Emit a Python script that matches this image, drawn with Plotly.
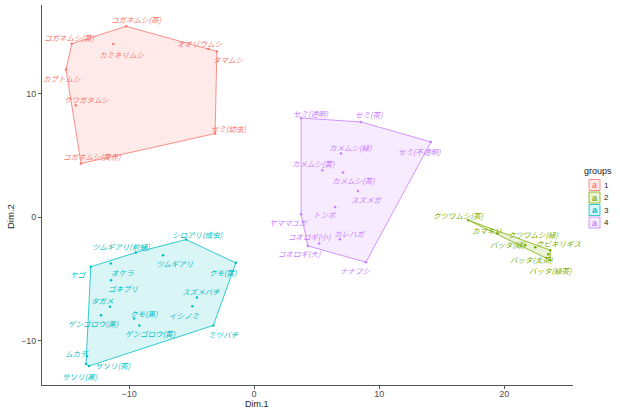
import plotly.graph_objects as go

# ---------------- data ----------------
g1_names = ["コガネムシ(茶)", "コガネムシ(黄)", "カミキリムシ", "オオゾウムシ", "タマムシ",
            "カブトムシ", "クワガタムシ", "セミ(幼虫)", "コガネムシ(黄赤)"]
g1_x = [-10.24, -14.58, -11.26, -3.66, -2.98, -15.04, -14.26, -3.12, -13.84]
g1_y = [15.47, 14.06, 14.03, 13.63, 13.44, 11.98, 9.07, 6.78, 4.35]

g2_names = ["クツワムシ(茶)", "カマキリ", "クツワムシ(緑)", "バッタ(緑)", "クビキリギス",
            "バッタ(太茶)", "バッタ(緑茶)"]
g2_x = [17.12, 19.44, 22.48, 21.68, 23.68, 23.52, 23.68]
g2_y = [-0.24, -1.30, -2.43, -2.27, -2.67, -3.00, -3.48]

g3_names = ["シロアリ(成虫)", "ツムギアリ(前蛹)", "ツムギアリ", "ヤゴ", "オケラ", "クモ(黄)",
            "ゴキブリ", "スズメバチ", "タガメ", "イシノミ", "ゲンゴロウ(黒)", "クモ(黒)",
            "ゲンゴロウ(黄)", "ミツバチ", "ムカデ", "サソリ(茶)", "サソリ(黒)"]
g3_x = [-5.44, -9.46, -7.28, -13.06, -11.46, -1.46, -11.44, -4.58, -11.52, -4.94,
        -12.24, -9.60, -9.17, -3.26, -13.36, -13.20, -13.44]
g3_y = [-1.81, -2.86, -3.08, -4.02, -3.75, -3.70, -5.10, -6.50, -7.26, -7.21,
        -7.94, -8.20, -8.77, -8.77, -11.26, -12.06, -11.90]

g4_names = ["セミ(透明)", "セミ(茶)", "セミ(不透明)", "カメムシ(緑)", "カメムシ(黄)",
            "カメムシ(茶)", "スズメガ", "トンボ", "ヤママユガ", "コオロギ(小)", "カレハガ",
            "コオロギ(大)", "ナナフシ"]
g4_x = [3.76, 8.54, 14.14, 6.94, 5.46, 7.10, 8.30, 6.48, 3.76, 5.20, 6.86, 4.30, 8.94]
g4_y = [8.04, 7.72, 6.10, 5.16, 3.81, 3.62, 2.13, 0.83, 0.24, -2.13, -1.78, -2.33, -3.65]

group_labels = ["1", "2", "3", "4"]
x_ticks = [-10, 0, 10, 20]
y_ticks = [-10, 0, 10]

# ---------------- style ----------------
colors = {"1": "#F8766D", "2": "#7CAE00", "3": "#00BFC4", "4": "#C77CFF"}
fills = {"1": "rgba(248,118,109,0.15)", "2": "rgba(124,174,0,0.15)",
         "3": "rgba(0,191,196,0.15)", "4": "rgba(199,124,255,0.15)"}

# label offsets in pixels (dx right, dy down), repel-like placement
offsets = {
    "コガネムシ(茶)": (10, -7), "コガネムシ(黄)": (-2, -6), "カミキリムシ": (9, 10),
    "オオゾウムシ": (-8, -6), "タマムシ": (12, 8), "カブトムシ": (-4, 9),
    "クワガタムシ": (11, -6), "セミ(幼虫)": (14, -5), "コガネムシ(黄赤)": (11, -7),
    "クツワムシ(茶)": (-10, -5), "カマキリ": (-10, -3), "クツワムシ(緑)": (-2, -13),
    "バッタ(緑)": (-17, -1), "クビキリギス": (9, -7), "バッタ(太茶)": (-17, 5),
    "バッタ(緑茶)": (0, 10),
    "シロアリ(成虫)": (11, -5), "ツムギアリ(前蛹)": (-15, -6), "ツムギアリ": (12, 8),
    "ヤゴ": (-12, 8), "オケラ": (12, 9), "クモ(黄)": (-13, 10), "ゴキブリ": (12, 8),
    "スズメバチ": (4, -6), "タガメ": (-8, -6), "イシノミ": (-8, 9),
    "ゲンゴロウ(黒)": (-8, 8), "クモ(黒)": (10, -5), "ゲンゴロウ(黄)": (11, 8),
    "ミツバチ": (10, 9), "ムカデ": (-10, -3), "サソリ(茶)": (24, -1), "サソリ(黒)": (-6, 12),
    "セミ(透明)": (10, -5), "セミ(茶)": (8, -7), "セミ(不透明)": (-11, 10),
    "カメムシ(緑)": (10, -6), "カメムシ(黄)": (-9, -7), "カメムシ(茶)": (11, 8),
    "スズメガ": (9, 9), "トンボ": (-10, 8), "ヤママユガ": (-13, 8), "コオロギ(小)": (-10, -7),
    "カレハガ": (10, -6), "コオロギ(大)": (-8, 8), "ナナフシ": (-10, 8),
}

W, H = 620, 409
L, R, T, B = 42, 47, 5, 24
PW, PH = W - L - R, H - T - B


def hull(xs, ys):
    pts = sorted(set(zip(xs, ys)))
    if len(pts) < 3:
        return pts

    def cross(o, a, b):
        return (a[0] - o[0]) * (b[1] - o[1]) - (a[1] - o[1]) * (b[0] - o[0])
    lower, upper = [], []
    for p in pts:
        while len(lower) >= 2 and cross(lower[-2], lower[-1], p) <= 0:
            lower.pop()
        lower.append(p)
    for p in reversed(pts):
        while len(upper) >= 2 and cross(upper[-2], upper[-1], p) <= 0:
            upper.pop()
        upper.append(p)
    return lower[:-1] + upper[:-1]


groups = [
    ("1", g1_names, g1_x, g1_y),
    ("2", g2_names, g2_x, g2_y),
    ("3", g3_names, g3_x, g3_y),
    ("4", g4_names, g4_x, g4_y),
]

fig = go.Figure()
annotations = []
for g, names, xs, ys in groups:
    h = hull(xs, ys)
    hx = [p[0] for p in h] + [h[0][0]]
    hy = [p[1] for p in h] + [h[0][1]]
    fig.add_trace(go.Scatter(x=hx, y=hy, mode="lines", fill="toself",
                             fillcolor=fills[g], line=dict(color=colors[g], width=0.8),
                             hoverinfo="skip", showlegend=False))
    fig.add_trace(go.Scatter(x=xs, y=ys, mode="markers",
                             marker=dict(color=colors[g], size=2.5),
                             showlegend=False, hovertext=names))
    for n, x, y in zip(names, xs, ys):
        dx, dy = offsets.get(n, (0, -8))
        annotations.append(dict(x=x, y=y, xref="x", yref="y", text=n, showarrow=False,
                                xshift=dx, yshift=-dy,
                                font=dict(family="Noto Sans CJK JP", size=7.5,
                                          color=colors[g], style="italic")))


def px2paper(px, py):
    return (px - L) / PW, (H - B - py) / PH


# axis titles
tx, ty = px2paper(257, 404)
annotations.append(dict(x=tx, y=ty, xref="paper", yref="paper", text="Dim.1",
                        xanchor="center", yanchor="middle",
                        showarrow=False, font=dict(family="Liberation Sans", size=9,
                                                   color="#222")))
tx, ty = px2paper(11, 217)
annotations.append(dict(x=tx, y=ty, xref="paper", yref="paper", text="Dim.2",
                        xanchor="center", yanchor="middle",
                        textangle=-90, showarrow=False,
                        font=dict(family="Liberation Sans", size=9.5, color="#222")))

# legend (drawn manually, ggplot style)
lx, ly = px2paper(598, 171)
annotations.append(dict(x=lx, y=ly, xref="paper", yref="paper", text="groups",
                        xanchor="center", yanchor="middle",
                        showarrow=False, font=dict(family="Liberation Sans", size=9,
                                                   color="#222")))
shapes = []
for i, g in enumerate(group_labels):
    cy = 185 + i * 12.5
    x0, y0 = px2paper(589, cy - 5.5)
    x1, y1 = px2paper(600, cy + 5.5)
    shapes.append(dict(type="rect", xref="paper", yref="paper", x0=x0, x1=x1,
                       y0=y1, y1=y0, fillcolor=fills[g],
                       line=dict(color=colors[g], width=0.8)))
    ax_, ay_ = px2paper(594.5, cy)
    annotations.append(dict(x=ax_, y=ay_, xref="paper", yref="paper", text="a",
                            xanchor="center", yanchor="middle",
                            showarrow=False, font=dict(family="Liberation Sans", size=9,
                                                       color=colors[g], weight="bold")))
    tx, ty = px2paper(606.5, cy)
    annotations.append(dict(x=tx, y=ty, xref="paper", yref="paper", text=g,
                            xanchor="center", yanchor="middle",
                            showarrow=False, font=dict(family="Liberation Sans", size=8,
                                                       color="#222")))

axis_common = dict(showgrid=False, zeroline=False, showline=True, linecolor="#555",
                   linewidth=1, ticks="outside", ticklen=3, tickcolor="#555",
                   tickfont=dict(family="Liberation Sans", size=9, color="#4D4D4D"),
                   mirror=False, automargin=False)

fig.update_layout(
    width=W, height=H,
    margin=dict(l=L, r=R, t=T, b=B, autoexpand=False),
    plot_bgcolor="white", paper_bgcolor="white",
    xaxis=dict(range=[-16.96, 25.5], tickvals=x_ticks, ticklabelstandoff=-3, **axis_common),
    yaxis=dict(range=[-13.6, 17.2], tickvals=y_ticks, **axis_common),
    annotations=annotations,
    shapes=shapes,
    showlegend=False,
)

fig.write_html("out.html", config={"displayModeBar": False},
               post_script="document.body.style.margin='0';document.body.style.padding='0';")
